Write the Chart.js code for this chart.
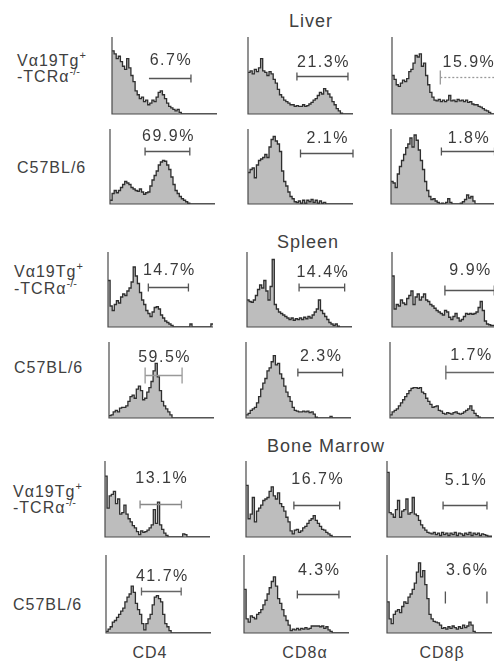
<!DOCTYPE html>
<html>
<head>
<meta charset="utf-8">
<script src="https://cdn.jsdelivr.net/npm/chart.js@4/dist/chart.umd.min.js"></script>
<style>
  html, body { margin: 0; padding: 0; background: #fff; }
  #fig { position: relative; width: 494px; height: 668px; overflow: hidden;
         font-family: "Liberation Sans", Arial, sans-serif; color: #404040; }
  .t { position: absolute; white-space: nowrap; line-height: 1; }
  .c { transform: translateX(-50%); }
  .title { font-size: 18px; letter-spacing: 1px; }
  .row { font-size: 16px; letter-spacing: 1px; }
  .axis { font-size: 16px; letter-spacing: 1px; }
  .sup { font-size: 11px; position: relative; top: -7px; letter-spacing: 0; }
  canvas.panel { position: absolute; }
</style>
</head>
<body>
<div id="fig"></div>
<script>
// ---- data: histogram counts per channel bin (50 bins, % of panel height) ----
const markers = ['CD4', 'CD8α', 'CD8β'];
const organs = ['Liver', 'Spleen', 'Bone Marrow'];

const liverTgCD4  = [82,78,72,75,68,62,58,72,60,50, 42,30,25,20,22,16,18,12,14,18, 16,22,28,30,25,20,14,10,8,6, 4,6,2,0,0,0,0,0,0,0, 0,0,0,0,0,0,0,0,0,0];
const liverTgCD8a = [54,56,52,58,55,60,72,56,54,50, 55,52,45,40,32,25,22,18,16,14, 12,12,10,11,10,10,12,10,11,13, 15,18,20,24,28,26,33,30,26,22, 16,12,7,4,1,0,0,0,0,0];
const liverTgCD8b = [50,45,38,36,40,44,42,46,55,58, 66,76,74,78,62,66,50,38,28,22, 18,17,19,16,18,16,18,24,17,18, 16,19,17,18,16,18,15,16,13,12, 12,10,9,7,5,4,2,0,0,0];

const liverB6CD4  = [5,14,18,15,18,22,26,30,28,26, 22,20,18,17,20,16,13,15,16,24, 32,38,44,52,56,58,57,52,46,36, 26,18,14,10,7,5,3,1,0,0, 0,0,0,0,0,0,0,0,0,0];
const liverB6CD8a = [42,46,48,35,52,58,60,62,66,62, 76,86,90,84,80,70,44,30,24,16, 10,7,3,2,4,1,5,1,5,3, 6,2,5,1,4,1,2,0,0,0, 0,0,0,0,0,0,0,0,0,0];
const liverB6CD8b = [30,28,22,40,50,58,66,75,80,88, 76,92,85,72,58,46,30,18,10,6, 7,4,2,0,1,0,2,7,2,0, 0,0,0,1,3,6,12,8,10,4, 0,0,0,0,0,0,0,0,0,0];

const spleenTgCD4  = [62,28,22,30,35,32,40,44,42,48, 52,60,80,68,58,46,36,30,22,18, 14,20,26,27,24,16,12,8,6,4, 2,0,0,0,0,0,0,0,0,4, 0,0,0,0,0,0,0,0,0,4];
const spleenTgCD8a = [36,34,33,36,42,50,56,52,62,48, 36,54,90,30,24,20,18,16,14,12, 10,12,9,11,10,12,10,13,11,14, 12,16,20,24,36,22,18,14,10,6, 4,2,4,1,0,0,0,0,0,0];
const spleenTgCD8b = [68,24,30,28,36,32,30,38,42,48, 30,40,44,36,40,44,36,34,30,28, 25,22,20,18,16,22,20,13,10,14, 18,12,8,10,14,18,17,18,17,18, 20,26,34,22,8,4,3,2,2,2];

const spleenB6CD4  = [3,4,8,10,8,13,14,14,16,22, 28,30,26,38,42,36,24,26,34,40, 48,62,72,54,36,22,16,12,8,4, 0,0,0,0,0,0,0,0,0,0, 0,0,0,0,0,0,0,0,0,0];
const spleenB6CD8a = [4,6,10,12,14,20,28,38,46,52, 62,66,74,82,70,72,58,52,42,34, 28,22,14,10,9,8,8,9,8,9, 7,8,5,1,0,0,0,0,0,0, 2,0,0,0,0,0,0,0,0,0];
const spleenB6CD8b = [4,8,10,12,16,20,24,28,32,36, 39,40,40,39,40,34,32,26,22,18, 14,15,16,10,9,6,5,7,6,5, 7,8,6,5,6,8,10,12,16,10, 6,3,1,0,0,0,0,0,0,0];

const bmTgCD4  = [80,38,54,56,60,44,50,30,32,42, 30,24,20,15,12,7,3,8,6,7, 9,12,16,36,18,46,16,10,5,2, 0,0,0,0,0,0,0,4,3,0, 0,0,0,0,0,0,0,0,0,0];
const bmTgCD8a = [68,24,30,52,20,34,38,42,48,50, 52,60,66,54,50,58,44,40,34,26, 20,8,4,9,10,6,8,12,14,18, 22,24,28,22,18,14,10,9,6,4, 2,0,0,0,0,0,0,0,0,0];
const bmTgCD8b = [85,32,30,26,36,48,26,34,36,50, 30,32,52,30,28,22,16,12,9,6, 5,4,6,3,5,2,6,3,5,2, 5,3,6,2,5,4,2,5,3,6, 2,5,3,5,2,4,3,2,1,1];

const bmB6CD4  = [2,5,8,14,16,20,24,28,32,40, 46,50,60,52,38,30,24,12,4,12, 18,24,36,46,48,44,40,24,12,8, 3,0,0,0,0,0,0,0,0,0, 0,0,0,0,0,0,0,0,0,0];
const bmB6CD8a = [56,18,14,22,20,18,24,26,30,36, 42,50,58,66,72,60,44,38,30,22, 16,10,3,5,4,6,4,6,5,7, 5,6,9,9,9,9,8,9,6,8, 4,2,0,0,0,0,0,0,0,0];
const bmB6CD8b = [40,18,12,24,28,30,26,34,40,38, 46,50,56,64,78,90,72,80,62,44, 24,18,15,14,13,10,6,7,5,8, 6,9,7,5,8,6,10,7,9,14, 10,2,0,0,0,0,0,0,0,0];

// gated range (bin units) and the percentage of cells inside it
const liverTgGates  = [[17.6,37.6],[23.3,47.6],[23,49.3]];
const liverB6Gates  = [[16.7,38],[25,50],[24,49.3]];
const spleenTgGates = [[19.2,38.3],[24.8,46.5],[25.2,48.7]];
const spleenB6Gates = [[17.2,34.8],[24.7,46],[26.6,50]];
const bmTgGates     = [[16.7,36.4],[22.8,44.6],[26.7,47.6]];
const bmB6Gates     = [[16.9,35.8],[25.4,45.2],[27.8,47.6]];

const liverTgPct  = ['6.7%','21.3%','15.9%'];
const liverB6Pct  = ['69.9%','2.1%','1.8%'];
const spleenTgPct = ['14.7%','14.4%','9.9%'];
const spleenB6Pct = ['59.5%','2.3%','1.7%'];
const bmTgPct     = ['13.1%','16.7%','5.1%'];
const bmB6Pct     = ['41.7%','4.3%','3.6%'];

const histRows = [
  [liverTgCD4, liverTgCD8a, liverTgCD8b],
  [liverB6CD4, liverB6CD8a, liverB6CD8b],
  [spleenTgCD4, spleenTgCD8a, spleenTgCD8b],
  [spleenB6CD4, spleenB6CD8a, spleenB6CD8b],
  [bmTgCD4, bmTgCD8a, bmTgCD8b],
  [bmB6CD4, bmB6CD8a, bmB6CD8b]
];
const gateRows = [liverTgGates, liverB6Gates, spleenTgGates, spleenB6Gates, bmTgGates, bmB6Gates];
const pctRows  = [liverTgPct, liverB6Pct, spleenTgPct, spleenB6Pct, bmTgPct, bmB6Pct];

// ---- layout ----
const rowTops  = [37, 129, 252, 342, 461, 555];
const rowBases = [114, 204, 327, 418, 537, 633];
const colLefts = [[112,248,392],[110,248,391],[108,247,392],[109,246,390],[105,246,387],[106,244,387]];
const PANEL_W = 105;
const PAD = { left: 4, top: 16, right: 14, bottom: 4 };

// gate bar height, label baseline (both in y units), tick half-length px, ticks/line shown, colour
const gateStyle = [
  [{gy:47,ly:63,th:4,lt:false,rt:true,ln:true,col:'#555'},{gy:50,ly:61,th:4,lt:true,rt:true,ln:true,col:'#555'},{gy:48,ly:61,th:7,lt:true,rt:true,ln:true,col:'#999',dash:[2,2]}],
  [{gy:71,ly:84,th:4,lt:true,rt:true,ln:true,col:'#555'},{gy:68,ly:81,th:4,lt:true,rt:true,ln:true,col:'#555'},{gy:71,ly:82,th:4,lt:true,rt:true,ln:true,col:'#555'}],
  [{gy:53,ly:69,th:4,lt:true,rt:true,ln:true,col:'#555'},{gy:53,ly:67,th:4,lt:true,rt:true,ln:true,col:'#555'},{gy:49,ly:70,th:5,lt:true,rt:true,ln:true,col:'#555'}],
  [{gy:57,ly:74,th:8,lt:true,rt:true,ln:true,col:'#999'},{gy:61,ly:75,th:4,lt:true,rt:true,ln:true,col:'#555'},{gy:61,ly:76,th:7,lt:true,rt:true,ln:true,col:'#666'}],
  [{gy:43,ly:71,th:4,lt:true,rt:true,ln:true,col:'#888'},{gy:42,ly:70,th:4,lt:true,rt:true,ln:true,col:'#555'},{gy:42,ly:69,th:4,lt:true,rt:true,ln:true,col:'#555'}],
  [{gy:54,ly:67,th:4,lt:true,rt:true,ln:true,col:'#666'},{gy:50,ly:74,th:4,lt:true,rt:true,ln:true,col:'#555'},{gy:46,ly:74,th:6,lt:true,rt:true,ln:false,col:'#555'}]
];

// draws the panel axes, the gate bar and its percentage
const gatePlugin = {
  id: 'gate',
  afterDatasetsDraw(chart, args, o) {
    const { ctx, chartArea: a, scales: { x, y } } = chart;
    ctx.save();
    ctx.strokeStyle = '#4a4a4a';
    ctx.lineWidth = 1.2;
    ctx.beginPath();
    ctx.moveTo(a.left, y.getPixelForValue(100));
    ctx.lineTo(a.left, a.bottom);
    ctx.lineTo(a.right, a.bottom);
    ctx.stroke();

    const x1 = x.getPixelForValue(o.range[0]);
    const x2 = x.getPixelForValue(o.range[1]);
    const gy = Math.round(y.getPixelForValue(o.gy)) + 0.5;
    ctx.strokeStyle = o.col;
    ctx.lineWidth = 1.3;
    ctx.beginPath();
    if (o.lt) { ctx.moveTo(x1, gy - o.th); ctx.lineTo(x1, gy + o.th); }
    if (o.rt) { ctx.moveTo(x2, gy - o.th); ctx.lineTo(x2, gy + o.th); }
    ctx.stroke();
    if (o.ln) {
      ctx.setLineDash(o.dash || []);
      ctx.beginPath();
      ctx.moveTo(x1, gy); ctx.lineTo(x2, gy);
      ctx.stroke();
      ctx.setLineDash([]);
    }
    ctx.fillStyle = '#3a3a3a';
    ctx.font = '16px "Liberation Sans", Arial, sans-serif';
    ctx.letterSpacing = '1.5px';
    ctx.textAlign = 'center';
    ctx.textBaseline = 'alphabetic';
    ctx.fillText(o.label, (x1 + x2) / 2 + 1, y.getPixelForValue(o.ly));
    ctx.restore();
  }
};

const fig = document.getElementById('fig');

function addText(html, cls, x, yCenter, size, centered) {
  const d = document.createElement('div');
  d.className = 't ' + cls + (centered ? ' c' : '');
  d.innerHTML = html;
  d.style.left = x + 'px';
  d.style.top = (yCenter - size / 2) + 'px';
  fig.appendChild(d);
}

// organ titles
addText(organs[0], 'title', 311, 21, 18, true);
addText(organs[1], 'title', 308, 242, 18, true);
addText(organs[2], 'title', 326, 446, 18, true);

// strain labels
const tgLine1 = 'Vα19Tg<span class="sup">+</span>';
const tgLine2 = '-TCRα<span class="sup">-/-</span>';
[[17, 61, 77, 168], [14, 272, 289, 368], [13, 492, 508, 605]].forEach(([lx, a, b, c]) => {
  addText(tgLine1, 'row', lx, a, 16, false);
  addText(tgLine2, 'row', lx, b, 16, false);
  addText('C57BL/6', 'row', lx, c, 16, false);
});

// marker labels under the columns
[150, 305, 442].forEach((cx, i) => addText(markers[i], 'axis', cx, 653, 16, true));

// histogram panels
histRows.forEach((row, r) => {
  row.forEach((counts, c) => {
    const top = rowTops[r], base = rowBases[r], left = colLefts[r][c];
    const cv = document.createElement('canvas');
    cv.className = 'panel';
    cv.width = PAD.left + PANEL_W + PAD.right;
    cv.height = PAD.top + (base - top) + PAD.bottom;
    cv.style.left = (left - PAD.left) + 'px';
    cv.style.top = (top - PAD.top) + 'px';
    fig.appendChild(cv);

    const pts = counts.map((v, i) => ({ x: i, y: v }));
    pts.push({ x: counts.length, y: counts[counts.length - 1] });

    const st = gateStyle[r][c];
    new Chart(cv, {
      type: 'line',
      data: {
        datasets: [{
          data: pts,
          stepped: true,
          fill: 'origin',
          backgroundColor: '#bdbdbd',
          borderColor: '#2f2f2f',
          borderWidth: 1.3,
          pointRadius: 0
        }]
      },
      options: {
        responsive: false,
        animation: false,
        devicePixelRatio: 1,
        events: [],
        layout: { padding: PAD },
        scales: {
          x: { type: 'linear', min: 0, max: counts.length, display: false },
          y: { min: 0, max: 100, display: false }
        },
        plugins: {
          legend: { display: false },
          tooltip: { enabled: false },
          gate: Object.assign({ range: gateRows[r][c], label: pctRows[r][c] }, st)
        }
      },
      plugins: [gatePlugin]
    });
  });
});
</script>
</body>
</html>
